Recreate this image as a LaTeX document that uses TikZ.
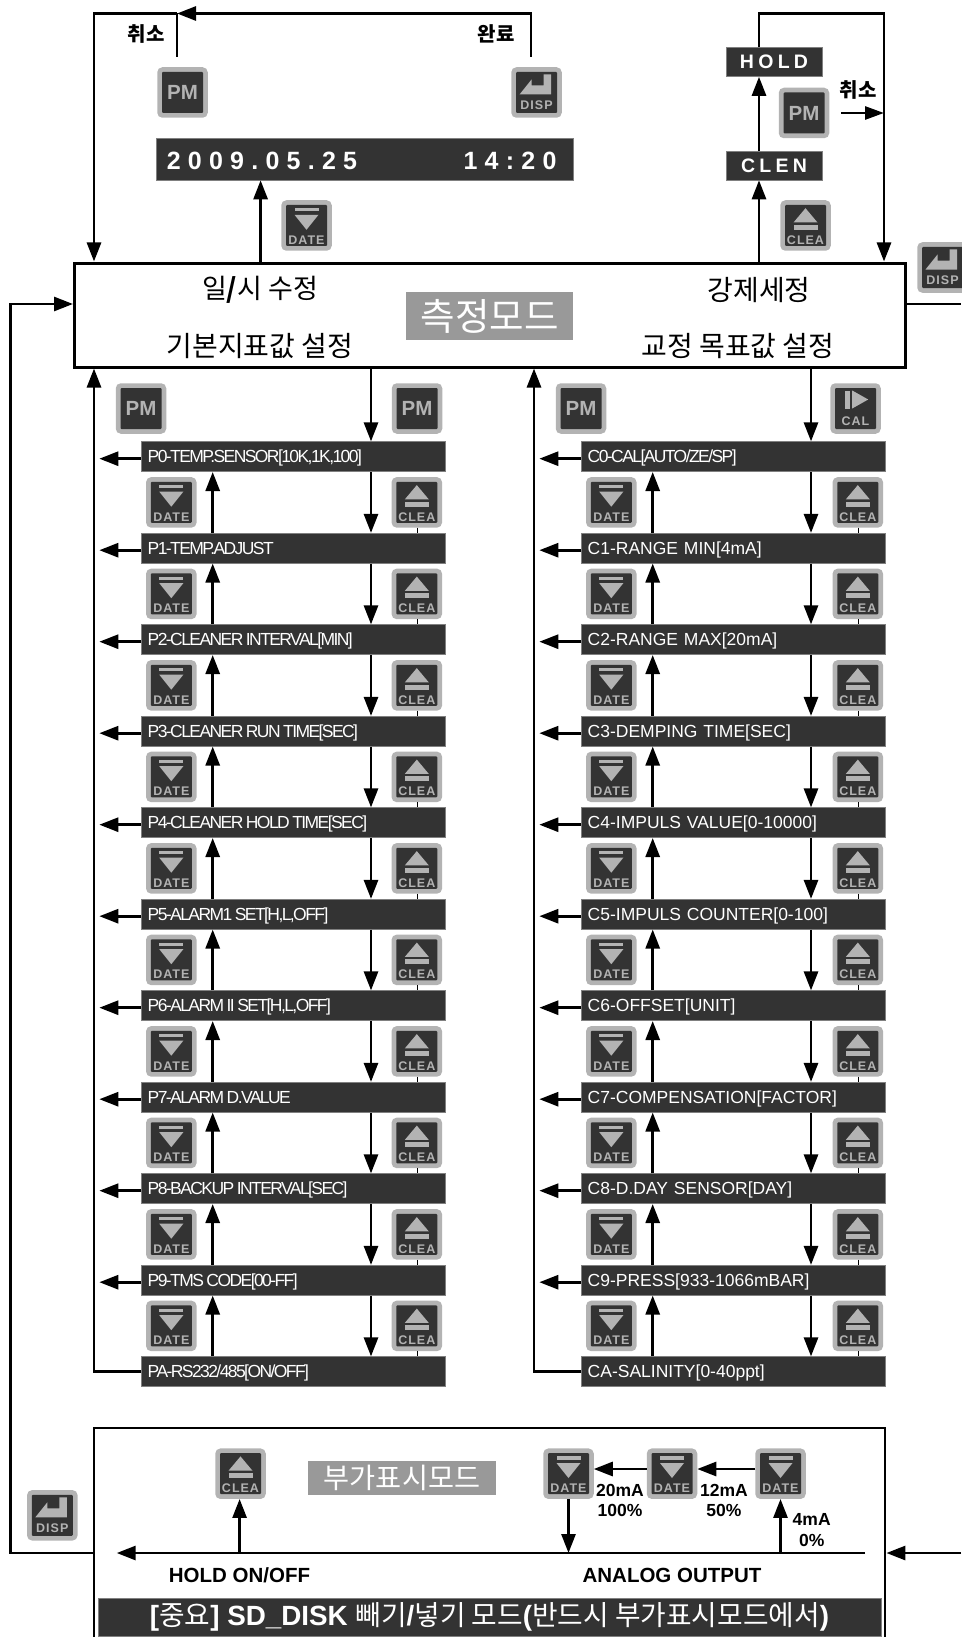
\documentclass[tikz,border=0pt]{standalone}
\usepackage{fontspec}
\setmainfont{Liberation Sans}
\newfontfamily\kr{Noto Sans CJK KR}
\newfontfamily\tightfont[LetterSpace=-9]{Liberation Sans}
\newfontfamily\datefont[LetterSpace=29]{Liberation Sans}
\newfontfamily\modefont[LetterSpace=22]{Liberation Sans}
\newfontfamily\keyfont[LetterSpace=8]{Liberation Sans}
\usetikzlibrary{arrows.meta,calc}
\definecolor{barblack}{RGB}{51,51,51}
\definecolor{keygray}{RGB}{179,179,179}
\definecolor{modegray}{RGB}{153,153,153}
\newcommand{\fs}[1]{\fontsize{#1}{#1}\selectfont}
\newcommand{\ltn}[1]{{\rmfamily\bfseries #1}}
\newcommand{\tsp}{\hspace{2.5pt}}
\newcommand{\keybase}{%
  \node[keyouter] (-box) at (0,0) {};
  \fill[barblack,rounded corners=1pt] (-20.5,-20.5) rectangle (20.5,20.5);}
\tikzset{
  rail/.style={line width=2.8pt},
  conn/.style={rail,-{Triangle[length=19pt,width=14pt]}},
  keyouter/.style={fill=keygray,rounded corners=5pt,minimum size=50.5pt,inner sep=0pt,outer sep=0pt},
  keytext/.style={text=keygray,font=\keyfont\fs{12.5}\bfseries,inner sep=0pt},
  listbar/.style={draw=gray,line width=0.6pt,fill=barblack,text=white,minimum width=304pt,minimum height=30pt,
    text width=292pt,align=left,inner xsep=6pt,inner ysep=0pt,text height=13.5pt,text depth=1pt,font=\fs{17.5}},
  modebar/.style={draw=gray,line width=0.6pt,fill=barblack,text=white,inner sep=0pt},
  modetag/.style={fill=modegray,text=white,inner sep=0pt},
  korlabel/.style={inner sep=0pt,font=\kr\fs{28}},
  smalllabel/.style={inner sep=0pt,font=\kr\bfseries\fs{20}},
  outlabel/.style={inner sep=0pt,font=\bfseries\fs{20.5}},
  malabel/.style={inner sep=0pt,align=center,font=\bfseries\fs{17.5}},
  keypm/.pic={\keybase
    \node[keytext,font=\fs{20.5}\bfseries] (-txt) at (0,0) {PM};},
  keydate/.pic={\keybase
    \fill[keygray] (-12,-17.3) rectangle (12,-14);
    \fill[keygray] (-12,-10.7) -- (12,-10.7) -- (0,4.3) -- cycle;
    \node[keytext] (-txt) at (0,14.3) {DATE};},
  keyclea/.pic={\keybase
    \fill[keygray] (-12,-3) -- (12,-3) -- (0,-17.3) -- cycle;
    \fill[keygray] (-12,-0.7) rectangle (12,4.3);
    \node[keytext] (-txt) at (0,14.3) {CLEA};},
  keydisp/.pic={\keybase
    \fill[keygray] (-17,2) -- (-5,-13) -- (-5,-7) -- (7,-7) -- (7,-18) -- (14.5,-18) -- (14.5,2) -- cycle;
    \node[keytext] (-txt) at (0,13) {DISP};},
  keycal/.pic={\keybase
    \fill[keygray] (-10.6,-18) rectangle (-6,0);
    \fill[keygray] (-3.3,-18) -- (-3.3,0) -- (12.7,-9) -- cycle;
    \node[keytext] (-txt) at (0,13) {CAL};},
}
\begin{document}
\begin{tikzpicture}[x=1pt,y=-1pt]
  \useasboundingbox (0,0) rectangle (961,1637);

  % Guide positions for the connectors
  \coordinate (toprail) at (0,13.5);
  \coordinate (leftrail) at (10.3,0);
  \coordinate (exitrail) at (94,0);
  \coordinate (mainrow) at (0,304);
  \coordinate (subrow) at (0,1553);
  \coordinate (pagein) at (961,0);
  \coordinate (pmdrop) at (177,57);
  \coordinate (dispdrop) at (531,57);
  \coordinate (dateup) at (260.6,0);
  \coordinate (cleanup) at (759,0);
  \coordinate (holdrail) at (884,0);
  \coordinate (cancelstart) at (841,113);

  % Main mode box
  \node[draw,line width=3pt,minimum width=831pt,minimum height=104pt,inner sep=0pt] (mainbox) at (490,315) {};
  \node[korlabel,font=\kr\fs{27}] (settime) at (260,290) {일{\bfseries/}시 수정};
  \node[korlabel] (setbase) at (260,346) {기본지표값 설정};
  \node[korlabel] (setclean) at (759,290) {강제세정};
  \node[korlabel] (settarget) at (738,346) {교정 목표값 설정};
  \node[modetag,minimum width=167pt,minimum height=48pt,font=\kr\fs{37.5}] (modemain) at (489.5,316) {측정모드};

  % Date and time setting
  \node[modebar,minimum width=417pt,minimum height=42pt] (datebar) at (364.5,159) {};
  \node[text=white,inner sep=0pt,font=\datefont\bfseries\fs{25}] (datetext) at (262,160.5) {2009.05.25};
  \node[text=white,inner sep=0pt,font=\datefont\bfseries\fs{25}] (timetext) at (510,160.5) {14:20};
  \pic (pmtop) at (182.5,92.5) {keypm};
  \pic (disptop) at (536.5,92.5) {keydisp};
  \pic (datetop) at (306.5,225.5) {keydate};
  \node[smalllabel] (canceltop) at (146,34) {취소};
  \node[smalllabel] (donetop) at (496,34) {완료};
  \draw[conn] (mainbox.north -| dateup) -- (datebar.south -| dateup);
  \draw[rail] (pmdrop) -- (pmdrop |- toprail);
  \draw[conn] (dispdrop) -- (dispdrop |- toprail) -- (pmdrop |- toprail);
  \draw[conn] (pmdrop |- toprail) -- (exitrail |- toprail) -- (mainbox.north -| exitrail);

  % Forced cleaning
  \node[modebar,minimum width=96pt,minimum height=29pt,font=\modefont\bfseries\fs{19.5}] (holdbar) at (774,62) {HOLD};
  \node[modebar,minimum width=96pt,minimum height=29pt,font=\modefont\bfseries\fs{19.5}] (clenbar) at (774,165.5) {CLEN};
  \pic (pmclean) at (804,113) {keypm};
  \pic (cleaclean) at (805.5,225.5) {keyclea};
  \node[smalllabel] (cancelclean) at (858,90) {취소};
  \draw[conn] (mainbox.north -| cleanup) -- (clenbar.south -| cleanup);
  \draw[conn] (clenbar.north -| cleanup) -- (holdbar.south -| cleanup);
  \draw[conn] (holdbar.north -| cleanup) -- (cleanup |- toprail) -- (holdrail |- toprail) -- (mainbox.north -| holdrail);
  \draw[rail,-{Triangle[length=19pt,width=13pt]}] (cancelstart) -- (cancelstart -| holdrail);

  % Right side display key and the way round to the lower box
  \pic (dispmain) at (942.5,267.5) {keydisp};
  \pic (dispsub) at (52.3,1515.3) {keydisp};
  \draw[rail] (mainrow -| mainbox.east) -- (mainrow -| pagein);

  % P and C lists
  \foreach \lab [count=\i from 0] in {{P0-TEMP.SENSOR[10K,1K,100]},{P1-TEMP.ADJUST},{P2-CLEANER\tsp INTERVAL[MIN]},
      {P3-CLEANER\tsp RUN\tsp TIME[SEC]},{P4-CLEANER\tsp HOLD\tsp TIME[SEC]},{P5-ALARM1\tsp SET[H,L,OFF]},{P6-ALARM\tsp II\tsp SET[H,L,OFF]},
      {P7-ALARM\tsp D.VALUE},{P8-BACKUP\tsp INTERVAL[SEC]},{P9-TMS\tsp CODE[00-FF]},{PA-RS232/485[ON/OFF]}}
    \node[listbar,font=\tightfont\fs{17.5}] (p\i) at (293.7,{456.7+91.5*\i}) {\lab};
  \node[listbar,font=\tightfont\fs{17.5}] (c0) at (733.7,456.7) {C0-CAL[AUTO/ZE/SP]};
  \foreach \lab [count=\i from 1] in {{C1-RANGE MIN[4mA]},{C2-RANGE MAX[20mA]},{C3-DEMPING TIME[SEC]},
      {C4-IMPULS VALUE[0-10000]},{C5-IMPULS COUNTER[0-100]},{C6-OFFSET[UNIT]},{C7-COMPENSATION[FACTOR]},
      {C8-D.DAY SENSOR[DAY]},{C9-PRESS[933-1066mBAR]},{CA-SALINITY[0-40ppt]}}
    \node[listbar] (c\i) at (733.7,{456.7+91.5*\i}) {\lab};

  % Keys and arrows between the rows
  \foreach \col/\dx in {p/0,c/440} {
    \coordinate (\col back) at ({94+\dx},0);
    \coordinate (\col tip) at ({99.3+\dx},0);
    \coordinate (\col up) at ({212.7+\dx},0);
    \coordinate (\col down) at ({371+\dx},0);
    \coordinate (\col thin) at ({416.8+\dx+(\dx/440)},0);
    \pic (\col pm) at ({141+\dx},408.5) {keypm};
    \draw[conn] (mainbox.south -| \col down) -- (\col 0.north -| \col down);
    \draw[conn] (\col 10.west) -- (\col back |- \col 10.west) -- (mainbox.south -| \col back);
    \foreach \i [evaluate=\i as \j using int(\i+1)] in {0,...,9} {
      \pic (\col date\i) at ({171.3+\dx},{502.4+91.5*\i}) {keydate};
      \pic (\col clea\i) at ({416.8+\dx+(\dx/440)},{502.4+91.5*\i}) {keyclea};
      \draw[line width=0.6pt] (\col clea\i-box.south -| \col thin) -- (\col\j.north -| \col thin);
      \draw[conn] (\col\j.north -| \col up) -- (\col\i.south -| \col up);
      \draw[conn] (\col\i.south -| \col down) -- (\col\j.north -| \col down);
      \draw[conn] ([yshift=-2pt]\col\i.west) -- ([yshift=-2pt]\col\i.west -| \col tip);
    }
  }
  \pic (pmright) at (417,408.5) {keypm};
  \pic (calright) at (855.5,408.5) {keycal};

  % Lower box
  \node[draw,line width=2.8pt,minimum width=791pt,minimum height=240pt,inner sep=0pt] (subbox) at (489.5,1548) {};
  \node[modetag,minimum width=188pt,minimum height=34pt,font=\kr\fs{28.3}] (modesub) at (402,1478) {부가표시모드};
  \pic (cleasub) at (240.5,1473.7) {keyclea};
  \pic (date100) at (568.5,1473.7) {keydate};
  \pic (date50) at (672,1473.7) {keydate};
  \pic (date0) at (780.5,1473.7) {keydate};
  \node[malabel] (ma100) at (620,1500.5) {20mA\\[3pt]100\%};
  \node[malabel] (ma50) at (724,1500.5) {12mA\\[3pt]50\%};
  \node[malabel] (ma0) at (811.7,1530) {4mA\\[3pt]0\%};
  \node[outlabel] (holdonoff) at (239.5,1575) {HOLD ON/OFF};
  \node[outlabel] (analogout) at (672,1575) {ANALOG OUTPUT};
  \node[modebar,minimum width=783pt,minimum height=38pt,font=\kr\fs{27.8}] (sdbar) at (489.5,1617)
    {\ltn{[}중요\ltn{] SD\_DISK }빼기\ltn{/}넣기 모드\ltn{(}반드시 부가표시모드에서\ltn{)}};

  \coordinate (lineend) at (865,1553);
  \coordinate (linetip) at (116.7,1553);
  \coordinate (midrow) at (0,1469);
  \coordinate (cleaup) at (239.6,1553);
  \draw[conn] (lineend) -- (linetip);
  \draw[conn] (cleaup) -- (cleaup |- cleasub-box.south);
  \draw[conn] (date100-box.south) -- (subrow -| date100-box.south);
  \draw[conn] (subrow -| date0-box.south) -- (date0-box.south);
  \draw[conn] (date0-box.west |- midrow) -- (date50-box.east |- midrow);
  \draw[conn] (date50-box.west |- midrow) -- (date100-box.east |- midrow);

  % Connections to the page edges
  \draw[conn] (subbox.west |- subrow) -- (leftrail |- subrow) -- (leftrail |- mainrow) -- (mainbox.west |- mainrow);
  \draw[conn] (subrow -| pagein) -- (subbox.east |- subrow);
\end{tikzpicture}
\end{document}
